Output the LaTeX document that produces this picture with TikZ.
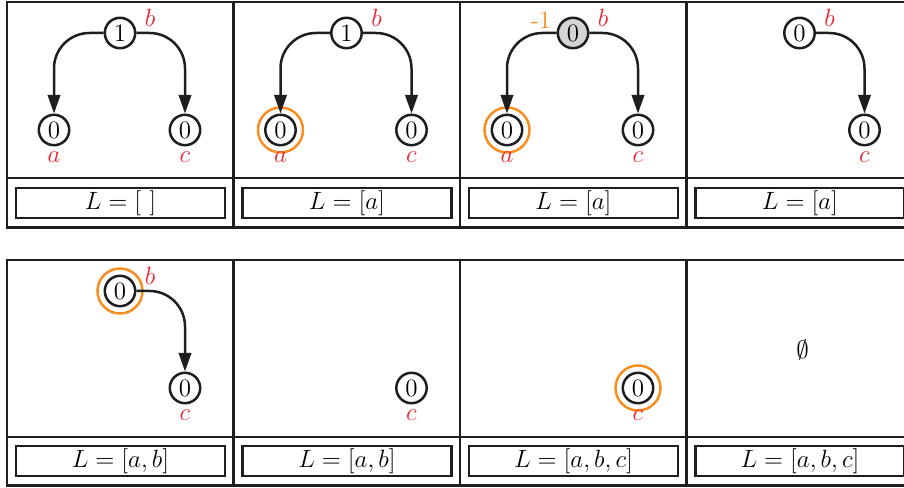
\documentclass[tikz,border=0pt]{standalone}
\usetikzlibrary{arrows.meta}
\definecolor{myred}{RGB}{236,34,50}
\definecolor{myorange}{RGB}{247,142,30}
\definecolor{mygray}{RGB}{212,212,212}
\definecolor{ink}{RGB}{30,30,30}
\tikzset{
  every node/.style={font=\large},
  vert/.style={circle,draw=ink,line width=1.2pt,minimum size=14.6pt,inner sep=0pt},
  ring/.style={circle,draw=myorange,line width=1.2pt,minimum size=21.6pt,inner sep=0pt},
  edge/.style={draw=ink,line width=1.2pt,rounded corners=17pt,-{Triangle[length=9pt,width=6pt]}},
  lab/.style={text=myred,inner sep=0pt},
  olab/.style={text=myorange,inner sep=0pt},
  lbox/.style={draw=ink,line width=1.3pt,minimum width=100.3pt,minimum height=14.4pt,inner sep=0pt},
  frame/.style={draw=ink,line width=1.3pt}
}
\begin{document}
\begin{tikzpicture}[x=0.48pt,y=-0.48pt]
\clip (0,0) rectangle (904,488);
% frames
\draw[frame] (7,2) rectangle (913,227.5);
\draw[frame] (7,178) -- (913,178);
\foreach \xx in {233.5,460,686.5} \draw[frame] (\xx,2) -- (\xx,227.5);
\draw[frame] (7,260) rectangle (913,485.5);
\draw[frame] (7,437) -- (913,437);
\foreach \xx in {233.5,460,686.5} \draw[frame] (\xx,260) -- (\xx,485.5);

% panel 1
\begin{scope}[shift={(7,2)}]
  \node[vert] (p1b) at (113,31) {1};
  \node[vert] (p1a) at (47,128) {0};
  \node[vert] (p1c) at (178,128) {0};
  \node[lab] (p1bl) at (143,16) {$b$};
  \node[lab] (p1al) at (47,155) {$a$};
  \node[lab] (p1cl) at (178,155) {$c$};
  \draw[edge] (p1b.west) -| (p1a.north);
  \draw[edge] (p1b.east) -| (p1c.north);
  \node[lbox] (p1L) at (113.5,201) {$L=[\ ]$};
\end{scope}

% panel 2
\begin{scope}[shift={(233.5,2)}]
  \node[vert] (p2b) at (113,31) {1};
  \node[vert] (p2a) at (47,128) {0};
  \node[vert] (p2c) at (178,128) {0};
  \node[ring] (p2r) at (p2a) {};
  \node[lab] (p2bl) at (143,16) {$b$};
  \node[lab] (p2al) at (47,155) {$a$};
  \node[lab] (p2cl) at (178,155) {$c$};
  \draw[edge] (p2b.west) -| (p2a.north);
  \draw[edge] (p2b.east) -| (p2c.north);
  \node[lbox] (p2L) at (113.5,201) {$L=[a]$};
\end{scope}

% panel 3
\begin{scope}[shift={(460,2)}]
  \node[vert,fill=mygray] (p3b) at (113,31) {0};
  \node[vert] (p3a) at (47,128) {0};
  \node[vert] (p3c) at (178,128) {0};
  \node[ring] (p3r) at (p3a) {};
  \node[lab] (p3bl) at (143,16) {$b$};
  \node[olab] (p3ml) at (81,18) {-1};
  \node[lab] (p3al) at (47,155) {$a$};
  \node[lab] (p3cl) at (178,155) {$c$};
  \draw[edge] (p3b.west) -| (p3a.north);
  \draw[edge] (p3b.east) -| (p3c.north);
  \node[lbox] (p3L) at (113.5,201) {$L=[a]$};
\end{scope}

% panel 4
\begin{scope}[shift={(686.5,2)}]
  \node[vert] (p4b) at (113,31) {0};
  \node[vert] (p4c) at (178,128) {0};
  \node[lab] (p4bl) at (143,16) {$b$};
  \node[lab] (p4cl) at (178,155) {$c$};
  \draw[edge] (p4b.east) -| (p4c.north);
  \node[lbox] (p4L) at (113.5,201) {$L=[a]$};
\end{scope}

% panel 5
\begin{scope}[shift={(7,260)}]
  \node[vert] (p5b) at (113,31) {0};
  \node[vert] (p5c) at (178,128) {0};
  \node[ring] (p5r) at (p5b) {};
  \node[lab] (p5bl) at (143,16) {$b$};
  \node[lab] (p5cl) at (178,155) {$c$};
  \draw[edge] (p5b.east) -| (p5c.north);
  \node[lbox] (p5L) at (113.5,201) {$L=[a,b]$};
\end{scope}

% panel 6
\begin{scope}[shift={(233.5,260)}]
  \node[vert] (p6c) at (178,128) {0};
  \node[lab] (p6cl) at (178,155) {$c$};
  \node[lbox] (p6L) at (113.5,201) {$L=[a,b]$};
\end{scope}

% panel 7
\begin{scope}[shift={(460,260)}]
  \node[vert] (p7c) at (178,128) {0};
  \node[ring] (p7r) at (p7c) {};
  \node[lab] (p7cl) at (178,155) {$c$};
  \node[lbox] (p7L) at (113.5,201) {$L=[a,b,c]$};
\end{scope}

% panel 8
\begin{scope}[shift={(686.5,260)}]
  \node (p8e) at (116,90) {$\emptyset$};
  \node[lbox] (p8L) at (113.5,201) {$L=[a,b,c]$};
\end{scope}
\end{tikzpicture}
\end{document}
